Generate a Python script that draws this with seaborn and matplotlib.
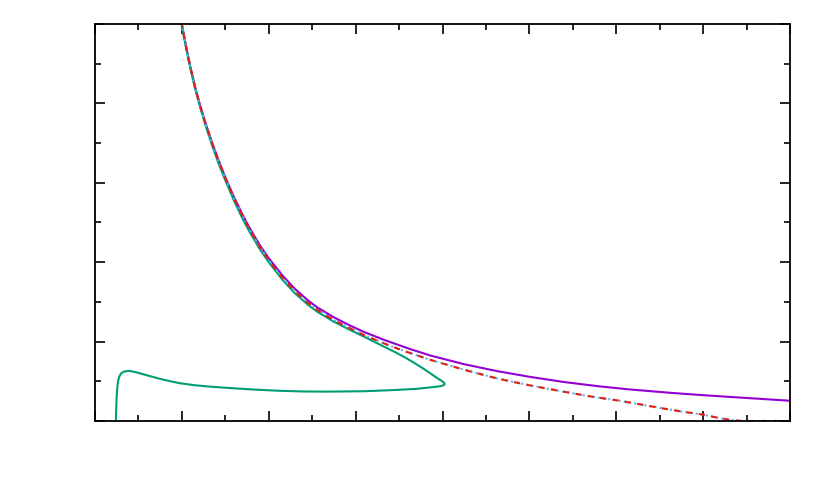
import numpy as np
import pandas as pd
import seaborn as sns
import matplotlib.pyplot as plt
from matplotlib.ticker import MultipleLocator, NullFormatter

# values
purple_x = [0.97, 1.0, 1.05, 1.1, 1.15, 1.2, 1.27, 1.35, 1.42, 1.5, 1.6, 1.7, 1.78, 1.9, 2.0, 2.16,
            2.3, 2.45, 2.56, 2.75, 2.94, 3.1, 3.32, 3.5, 3.63, 3.86, 4.25, 4.63, 5.0, 5.39, 5.8,
            6.16, 6.6, 7.0, 7.5, 8.0]
purple_y = [5.2, 5.0, 4.71, 4.45, 4.22, 4.015, 3.76, 3.5, 3.29, 3.07, 2.82, 2.595, 2.43, 2.21, 2.05, 1.83,
            1.665, 1.52, 1.43, 1.305, 1.2, 1.12, 1.025, 0.955, 0.905, 0.825, 0.715, 0.628, 0.557, 0.492, 0.437,
            0.397, 0.357, 0.325, 0.29, 0.255]

red_x = [0.97, 1.0, 1.05, 1.1, 1.15, 1.2, 1.27, 1.35, 1.42, 1.5, 1.6, 1.7, 1.78, 1.9, 2.0, 2.16,
         2.3, 2.45, 2.56, 2.75, 2.94, 3.1, 3.32, 3.5, 3.63, 3.86, 4.25, 4.63, 5.0, 5.39, 5.7,
         6.04, 6.3, 6.5, 6.75, 7.0, 7.15, 7.3, 7.45, 8.0]
red_y = [5.2, 4.99, 4.70, 4.44, 4.21, 4.005, 3.75, 3.49, 3.28, 3.06, 2.805, 2.58, 2.41, 2.19, 2.025, 1.80,
         1.635, 1.49, 1.40, 1.27, 1.165, 1.08, 0.98, 0.905, 0.855, 0.77, 0.645, 0.535, 0.45, 0.37, 0.31,
         0.255, 0.205, 0.165, 0.12, 0.08, 0.045, 0.015, 0.0, 0.0]

green_x = [0.96, 1.0, 1.05, 1.1, 1.15, 1.2, 1.27, 1.35, 1.42, 1.5, 1.6, 1.7, 1.78, 1.9, 2.0, 2.16,
           2.3, 2.45, 2.56, 2.75, 2.94, 3.1, 3.2, 3.32, 3.45, 3.57, 3.7, 3.8, 3.88, 3.94, 3.99, 4.02,
           4.025, 4.01, 3.98, 3.92, 3.83, 3.7, 3.45, 3.1, 2.68, 2.4, 2.13, 1.85, 1.55, 1.3, 1.15, 0.98,
           0.85, 0.77, 0.65, 0.55, 0.47, 0.40, 0.36, 0.33, 0.30, 0.28, 0.265, 0.255, 0.248, 0.244, 0.24]
green_y = [5.2, 4.98, 4.69, 4.43, 4.195, 3.99, 3.73, 3.465, 3.25, 3.03, 2.775, 2.545, 2.38, 2.16, 2.0, 1.775,
           1.61, 1.465, 1.375, 1.25, 1.145, 1.06, 1.005, 0.94, 0.87, 0.80, 0.715, 0.645, 0.585, 0.54, 0.505, 0.48,
           0.465, 0.45, 0.44, 0.43, 0.42, 0.405, 0.39, 0.375, 0.37, 0.372, 0.38, 0.395, 0.415, 0.435, 0.45, 0.475,
           0.505, 0.525, 0.56, 0.59, 0.615, 0.63, 0.628, 0.62, 0.60, 0.56, 0.50, 0.40, 0.28, 0.14, 0.0]

sns.set_style("white")
fig = plt.figure(figsize=(8.3, 4.98), dpi=100)
ax = fig.add_axes([95 / 830, 1 - 421 / 498, 695 / 830, 397 / 498])

sns.lineplot(x=purple_x, y=purple_y, sort=False, estimator=None, color="#9400d3", lw=1.5, ax=ax)
sns.lineplot(x=green_x, y=green_y, sort=False, estimator=None, color="#009e73", lw=1.5, ax=ax)
sns.lineplot(x=red_x, y=red_y, sort=False, estimator=None, color="#56b4e9", lw=1.5, ax=ax,
             linestyle=(0, (1, 1.5)))
sns.lineplot(x=red_x, y=red_y, sort=False, estimator=None, color="#e51e10", lw=1.5, ax=ax,
             linestyle=(0, (3, 3)))

ax.set_xlim(0, 8)
ax.set_ylim(0, 5)
ax.xaxis.set_major_locator(MultipleLocator(1))
ax.xaxis.set_minor_locator(MultipleLocator(0.5))
ax.yaxis.set_major_locator(MultipleLocator(1))
ax.yaxis.set_minor_locator(MultipleLocator(0.5))
ax.xaxis.set_major_formatter(NullFormatter())
ax.yaxis.set_major_formatter(NullFormatter())
ax.tick_params(which="both", direction="in", top=True, right=True, bottom=True, left=True,
               color="black", width=1.2)
ax.tick_params(which="major", length=7)
ax.tick_params(which="minor", length=4)
for s in ax.spines.values():
    s.set_visible(True)
    s.set_color("black")
    s.set_linewidth(1.3)
ax.set_xlabel("")
ax.set_ylabel("")

fig.savefig("out.png", dpi=100)
